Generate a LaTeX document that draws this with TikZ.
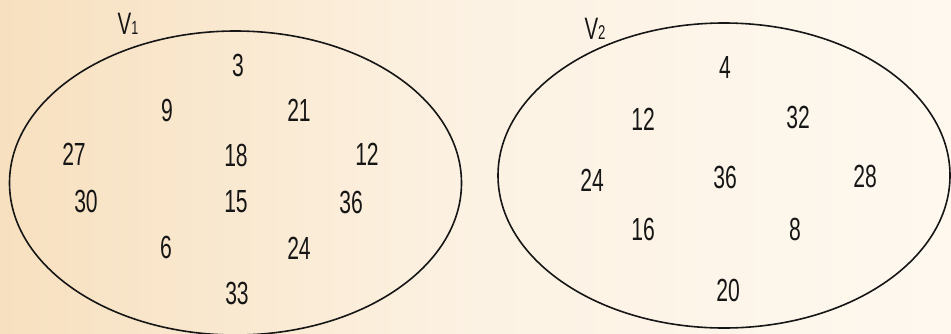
\documentclass[tikz,border=0pt]{standalone}
\usepackage{fontspec}
\newfontfamily\numfont[FakeStretch=0.66]{Liberation Sans}
\definecolor{paperL}{HTML}{F7E0BF}
\definecolor{paperM}{HTML}{FCF2E3}
\definecolor{paperR}{HTML}{FEF8EF}
\definecolor{ink}{HTML}{161616}
\begin{document}
\begin{tikzpicture}[x=1pt,y=-1pt,
  num/.style={inner sep=0pt, text=ink, font=\numfont\fontsize{32}{32}\selectfont},
  setlabel/.style={inner sep=0pt, text=ink, font=\numfont\fontsize{31}{31}\selectfont},
  setline/.style={draw=ink, line width=1.6pt}]
\useasboundingbox (0,0) rectangle (951,333);
\fill[left color=paperL, right color=paperR, middle color=paperM] (0,0) rectangle (951,333);
% sets
\draw[setline] (235.5,183) ellipse [x radius=226pt, y radius=152pt];
\draw[setline] (724,175.5) ellipse [x radius=226pt, y radius=152.5pt];
\node[setlabel] (V1) at (128,24) {V{\fontsize{19}{19}\selectfont 1}};
\node[setlabel] (V2) at (595,29) {V{\fontsize{20}{20}\selectfont 2}};
% V1 elements
\node[num] (a3)  at (238,65)  {3};
\node[num] (a9)  at (167,110) {9};
\node[num] (a21) at (299,110) {21};
\node[num] (a27) at (74,154)  {27};
\node[num] (a18) at (236,155) {18};
\node[num] (a12) at (367,154) {12};
\node[num] (a30) at (86,201)  {30};
\node[num] (a15) at (236,202) {15};
\node[num] (a36) at (351,202) {36};
\node[num] (a6)  at (166,247) {6};
\node[num] (a24) at (299,248) {24};
\node[num] (a33) at (237,293) {33};
% V2 elements
\node[num] (b4)  at (725,67)  {4};
\node[num] (b12) at (643,119) {12};
\node[num] (b32) at (798,117) {32};
\node[num] (b24) at (592,180) {24};
\node[num] (b36) at (725,177) {36};
\node[num] (b28) at (865,176) {28};
\node[num] (b16) at (643,229) {16};
\node[num] (b8)  at (795,229) {8};
\node[num] (b20) at (728,290) {20};
\end{tikzpicture}
\end{document}
